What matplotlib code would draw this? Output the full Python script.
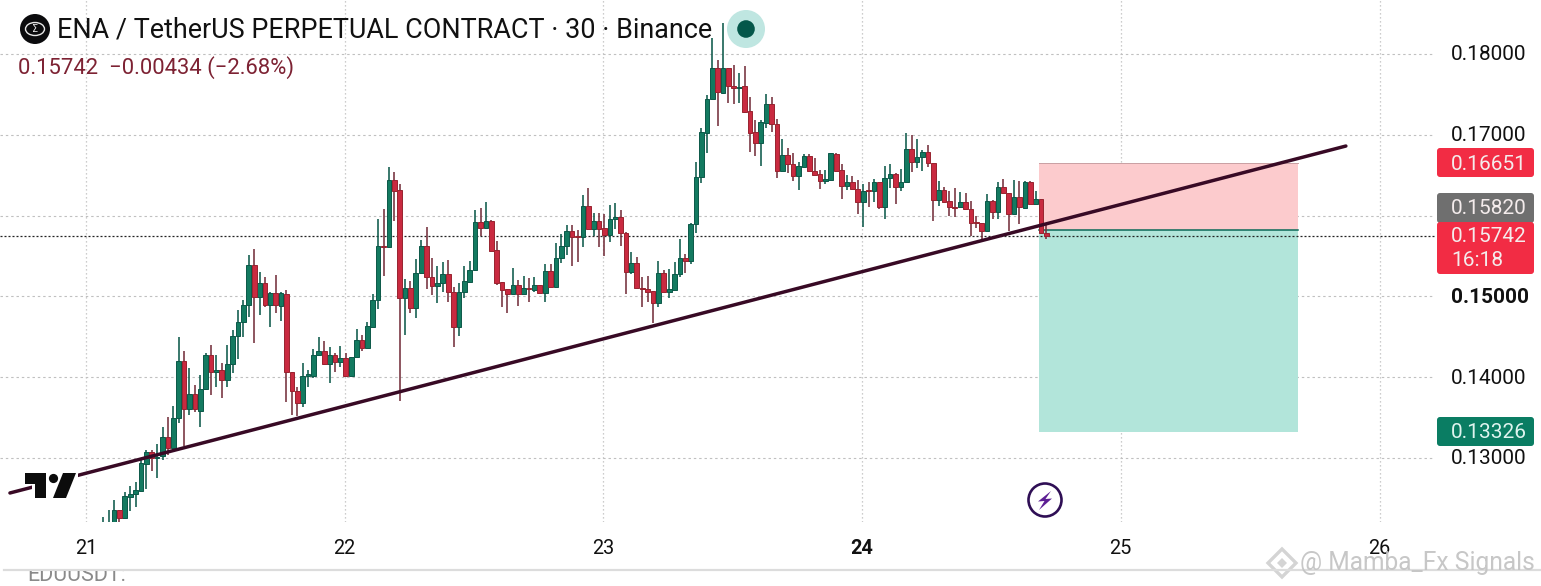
import numpy as np
import matplotlib
matplotlib.use("Agg")
import matplotlib.pyplot as plt
from matplotlib.patches import Circle, Polygon, FancyBboxPatch, Rectangle, Ellipse
from matplotlib.transforms import ScaledTranslation

plt.rcParams['font.family'] = ['Roboto', 'DejaVu Sans']

# OHLC of the 30-minute candles, in units of 0.00001 USDT
opens_e5 = [
    12110,12150,12213,12357,12262,12522,12551,12596,12922,13071,
    12996,13029,13256,13120,13500,14201,13603,13788,13586,13850,
    14275,14069,14090,13966,14160,14510,14679,14890,15389,14997,
    15162,14894,15038,14886,15030,14069,13834,13677,14019,14019,
    14275,14325,14160,14275,14193,14234,14015,14246,14461,14366,
    14626,14956,15624,15607,16441,16317,14976,15100,14853,15286,
    15624,15236,15133,15170,15273,15059,14626,15059,15183,15327,
    15917,15851,15933,15574,15174,15092,15034,15137,15034,15104,
    15080,15137,15046,15315,15121,15471,15620,15806,15748,15731,
    16119,15839,15933,15843,15760,15958,15979,15781,15298,15409,
    15104,15088,15067,14915,15286,15059,15080,15273,15471,15438,
    15896,16474,17027,17440,17831,17522,17823,17609,17576,17600,
    17295,17035,16903,17151,17378,17130,16557,16746,16635,16495,
    16598,16738,16557,16515,16433,16441,16763,16565,16371,16412,
    16326,16173,16313,16301,16416,16111,16462,16516,16359,16412,
    16821,16668,16722,16784,16648,16194,16313,16181,16111,16111,
    16169,16078,15921,15905,15814,16181,16049,16355,16276,16021,
    16235,16091,16421,16140,16210,15781]
highs_e5 = [
    12275,12357,12481,12357,12584,12654,12699,12976,13100,13100,
    13174,13388,13512,13644,14502,14325,14110,13904,14028,14304,
    14399,14275,14172,14399,14585,14832,14956,15513,15587,15302,
    15245,15059,15265,15059,15080,14069,13883,14172,14090,14349,
    14502,14452,14378,14296,14391,14296,14254,14597,14523,14684,
    15026,15958,16078,16606,16544,16391,15216,15195,15463,15698,
    15855,15471,15377,15422,15451,15121,15162,15377,15438,16070,
    16090,16169,15950,15690,15174,15092,15348,15203,15253,15224,
    15236,15137,15397,15401,15657,15772,15884,15888,15822,16255,
    16338,16037,16028,16020,16131,16152,16070,15801,15554,15484,
    15245,15253,15067,15438,15327,15339,15430,15707,15525,15913,
    16668,17081,17493,18203,17926,18380,17823,17864,17770,17852,
    17464,17184,17184,17505,17464,17192,16944,16833,16771,16668,
    16763,16763,16709,16565,16565,16780,16771,16639,16503,16491,
    16441,16392,16412,16449,16416,16614,16635,16524,16577,17019,
    16998,16944,16813,16874,16656,16429,16351,16305,16346,16297,
    16285,16181,16000,15905,16264,16194,16412,16454,16276,16441,
    16429,16433,16429,16305,16210,15884]
lows_e5 = [
    12050,12100,12150,12213,12250,12349,12390,12590,12617,12844,
    12749,12976,13038,13100,13430,13149,13533,13566,13380,13840,
    13780,13875,13747,13875,14048,14226,14494,14750,14428,14770,
    14873,14626,14799,14700,13698,13533,13524,13636,13875,13986,
    14275,14151,13933,14069,14131,14015,14015,14246,14325,14366,
    14626,14840,15253,15607,15937,13710,14523,14799,14737,15278,
    15088,15018,14923,15059,14935,14378,14510,14976,15183,15319,
    15748,15851,15566,15141,14873,14799,15034,14886,15034,14935,
    15059,15046,14931,15121,15121,15418,15513,15381,15422,15608,
    15834,15748,15616,15504,15678,15830,15628,15030,15273,15100,
    14873,14935,14667,14865,15059,14976,15080,15236,15294,15397,
    15790,16400,16771,17440,17114,17501,17398,17378,17398,17266,
    16792,16742,16619,17081,17039,16470,16557,16532,16433,16317,
    16598,16536,16507,16330,16392,16441,16553,16206,16317,16326,
    16021,15864,16111,16173,16078,15959,16346,16144,16309,16412,
    16536,16594,16553,16606,15938,16124,16173,16000,15987,16111,
    16078,15752,15843,15678,15814,15955,15955,16276,15814,16021,
    15897,16078,16140,16140,15773,15707]
closes_e5 = [
    12150,12200,12357,12254,12530,12551,12604,12935,13079,12996,
    13017,13256,13120,13500,14201,13603,13788,13603,13850,14275,
    14069,14090,13966,14160,14510,14679,14890,15389,14997,15162,
    14894,15038,14894,15038,14069,13834,13685,14019,14040,14275,
    14325,14160,14275,14193,14234,14015,14246,14461,14366,14634,
    14956,15624,15616,16441,16309,14976,15100,14853,15286,15624,
    15236,15133,15170,15273,15059,14626,15059,15191,15327,15917,
    15851,15933,15566,15170,15080,15034,15137,15034,15100,15096,
    15137,15046,15315,15121,15471,15620,15806,15740,15740,16119,
    15834,15933,15839,15760,15958,15979,15781,15298,15409,15100,
    15096,15059,14915,15286,15059,15088,15273,15471,15438,15896,
    16474,17031,17440,17831,17526,17823,17609,17576,17588,17287,
    17027,16903,17159,17378,17130,16557,16746,16635,16495,16614,
    16738,16553,16507,16433,16450,16771,16557,16371,16412,16326,
    16173,16309,16301,16416,16111,16462,16516,16359,16412,16821,
    16668,16722,16784,16648,16194,16313,16173,16103,16099,16169,
    16078,15913,15909,15814,16181,16049,16359,16276,16021,16235,
    16111,16421,16140,16202,15781,15742]

first_candle_day = 21 + 3.2 / 48
candles_per_day = 48
day_ticks = [21, 22, 23, 24, 25, 26]
price_ticks = [0.13, 0.14, 0.15, 0.16, 0.17, 0.18]
price_tick_labels = ["0.13000", "0.14000", "0.15000", "", "0.17000", "0.18000"]

last_price = 0.15742
entry_price = 0.15820
stop_price = 0.16651
target_price = 0.13326
position_days = (24.684, 25.685)
trend_days = [20.706, 25.870]
trend_prices = [0.12567, 0.16861]

o = np.array(opens_e5) / 1e5
h = np.array(highs_e5) / 1e5
l = np.array(lows_e5) / 1e5
c = np.array(closes_e5) / 1e5
t = first_candle_day + np.arange(len(o)) / candles_per_day
up = c >= o

W, H = 1541, 586
fig = plt.figure(figsize=(W / 100, H / 100), dpi=100, facecolor="white")
ax = fig.add_axes([0, (H - 522) / H, 1435 / W, 522 / H])
ax.set_xlim(21 - 86 / 258.7, 21 + (1435 - 86) / 258.7)
ax.set_ylim(0.18 - 468 / 8080, 0.18 + 54 / 8080)
for s in ax.spines.values():
    s.set_visible(False)

ax.set_xticks(day_ticks)
ax.set_xticklabels([str(d) for d in day_ticks], fontsize=14.3, color="#111111")
ax.yaxis.tick_right()
ax.set_yticks(price_ticks)
ax.set_yticklabels(price_tick_labels, fontsize=15, color="#111111")
ax.tick_params(axis="both", length=0)
ax.tick_params(axis="y", pad=11.5)
ax.tick_params(axis="x", pad=12.5)
ax.get_yticklabels()[2].set_fontweight("bold")
ax.get_xticklabels()[3].set_fontweight("bold")
up_1px = ScaledTranslation(0, 1 / 100, fig.dpi_scale_trans)
for lab in ax.get_yticklabels():
    lab.set_transform(lab.get_transform() + up_1px)
ax.set_axisbelow(True)
ax.grid(axis="y", color="#c0c0c0", lw=0.8, ls=(0, (2.2, 2.6)))
ax.grid(axis="x", color="#bcbcbc", lw=0.9, ls=(0, (1, 2.2)))

# Position tool
ax.fill_between(position_days, entry_price, stop_price, color="#fccbcd", lw=0, zorder=1)
ax.fill_between(position_days, target_price, entry_price, color="#b2e5da", lw=0, zorder=1)
ax.plot(position_days, [entry_price] * 2, color="#0b6a58", lw=1.1, zorder=1.5)
ax.plot(position_days, [stop_price] * 2, color="#c9a0a3", lw=0.7, zorder=1.5)

# Last price line
ax.axhline(last_price, color="#222222", lw=0.9, ls=(0, (1.6, 1.6)), zorder=1.6)

# Candles
wick_up, wick_dn = "#0e5a4b", "#74303c"
body_up, body_dn = "#137a60", "#c92a40"
edge_up, edge_dn = "#0c5848", "#98232f"
ax.vlines(t[up], l[up], h[up], color=wick_up, lw=1.15, zorder=2)
ax.vlines(t[~up], l[~up], h[~up], color=wick_dn, lw=1.15, zorder=2)
bw = 4.7 / 258.7
ax.bar(t[up], c[up] - o[up], bottom=o[up], width=bw, color=body_up, edgecolor=edge_up, lw=0.7, zorder=3)
ax.bar(t[~up], o[~up] - c[~up], bottom=c[~up], width=bw, color=body_dn, edgecolor=edge_dn, lw=0.7, zorder=3)

# Trend line
ax.plot(trend_days, trend_prices, color="#380a25", lw=2.5, solid_capstyle="round", zorder=4)

# Pixel overlay for the chart furniture
ov = fig.add_axes([0, 0, 1, 1], facecolor="none")
ov.set_xlim(0, W)
ov.set_ylim(H, 0)
ov.axis("off")

# TradingView logo
ov.add_patch(Rectangle((32, 465), 46, 36, fc="white", ec="none", zorder=1))
ov.add_patch(Polygon([(25, 473), (46, 473), (46, 498), (35, 498), (35, 484), (25, 484)], fc="#0c0c0c", ec="none", zorder=2))
ov.add_patch(Circle((53.5, 478.5), 4.6, fc="#0c0c0c", ec="none", zorder=2))
ov.add_patch(Polygon([(63, 473), (76, 473), (66, 498), (53, 498)], fc="#0c0c0c", ec="none", zorder=2))

# Header
ov.add_patch(Circle((35, 29), 15, fc="#0b0b0d", ec="none"))
ov.add_patch(Ellipse((35, 29), 19, 13, fill=False, ec="#e8e8e8", lw=1.0))
ov.text(35, 29, "Σ", ha="center", va="center", fontsize=7, color="#e8e8e8", family=["DejaVu Sans"])
ov.text(57, 30, "ENA / TetherUS PERPETUAL CONTRACT · 30 · Binance", ha="left", va="center",
        fontsize=19.47, color="#111111")
ov.text(18, 67.5, "0.15742  −0.00434 (−2.68%)", ha="left", va="center", fontsize=15.8, color="#7d2233")
ov.add_patch(Circle((746, 29), 19, fc="#bfe6e1", ec="none"))
ov.add_patch(Circle((746, 29), 8.8, fc="#04574a", ec="none"))

# Price labels
def box(y0, y1, color):
    ov.add_patch(FancyBboxPatch((1439, y0 + 2), 93, y1 - y0 - 4, boxstyle="round,pad=2,rounding_size=3",
                                fc=color, ec="none", zorder=3))

def label(y, s, color="#f4ecec", x=1451):
    ov.text(x, y, s, ha="left", va="center", fontsize=15, color=color, zorder=4)

box(148, 177, "#f22c44")
label(164, "0.16651")
box(193, 223, "#6f6f6f")
label(209, "0.15820")
box(222, 274, "#f22c44")
label(236.5, "0.15742")
label(261, "16:18")
box(417, 446, "#0a7d63")
label(433, "0.13326", color="#dff4ef")

# Replay / lightning icon
ov.add_patch(Circle((1045, 500), 16.5, fill=False, ec="#2f0f55", lw=1.9))
ov.add_patch(Polygon([(1051, 491), (1038, 501.5), (1044.5, 501), (1039, 510), (1052, 498.5), (1045.5, 499)],
                     fc="#5d1f94", ec="none"))

# Footer
ov.plot([4, W], [570, 570], color="#dcdcdc", lw=1.6)
clip = Rectangle((0, 571), 600, 15, transform=ov.transData)
txt = ov.text(27, 581, "EDUUSDT:", ha="left", va="baseline", fontsize=15.5, color="#8a8a8a")
txt.set_clip_path(clip)
txt.set_clip_on(True)

# Watermark
ov.add_patch(Polygon([(1282, 549), (1296, 563), (1282, 577), (1268, 563)], fill=False, ec="#d4d4d4", lw=2.4))
ov.add_patch(Polygon([(1282, 558), (1287, 563), (1282, 568), (1277, 563)], fc="#d4d4d4", ec="none"))
ov.text(1300, 563, "@ Mamba_Fx Signals", ha="left", va="center", fontsize=17.7, color="#c4c4c4", alpha=0.95, zorder=5)

fig.savefig("out.png", dpi=100, facecolor="white")
